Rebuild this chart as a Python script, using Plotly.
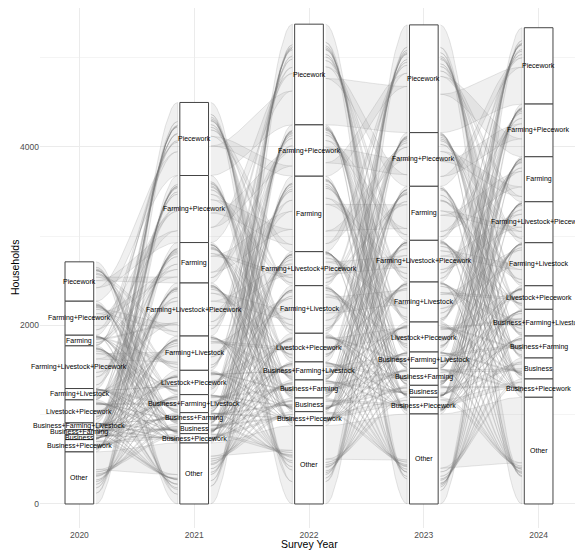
import plotly.graph_objects as go

years = [2020, 2021, 2022, 2023, 2024]
categories = ["Piecework", "Farming+Piecework", "Farming", "Farming+Livestock+Piecework",
              "Farming+Livestock", "Livestock+Piecework", "Business+Farming+Livestock",
              "Business+Farming", "Business", "Business+Piecework", "Other"]

# households per livelihood stratum (same order as categories, top to bottom)
hh_2020 = [441, 381, 119, 478, 127, 258, 75, 56, 56, 138, 583]
hh_2021 = [818, 751, 453, 594, 384, 272, 202, 123, 112, 105, 683]
hh_2022 = [1128, 575, 845, 381, 533, 321, 202, 202, 153, 157, 877]
hh_2023 = [1207, 601, 605, 467, 448, 336, 183, 190, 134, 187, 1008]
hh_2024 = [855, 590, 504, 459, 482, 264, 299, 246, 235, 205, 1195]

# transitions (rows: from stratum, cols: to stratum)
flows_2020_2021 = [
    [150, 80, 40, 30, 15, 25, 5, 5, 10, 20, 61],
    [60, 130, 50, 50, 20, 10, 8, 8, 5, 10, 30],
    [10, 25, 35, 12, 12, 3, 5, 5, 2, 0, 10],
    [40, 90, 50, 150, 60, 30, 20, 5, 5, 8, 20],
    [5, 15, 20, 25, 35, 5, 10, 4, 2, 1, 5],
    [40, 25, 10, 45, 15, 70, 8, 3, 5, 12, 25],
    [3, 5, 8, 10, 12, 4, 20, 6, 3, 1, 3],
    [3, 6, 8, 4, 5, 2, 8, 12, 4, 2, 2],
    [5, 3, 3, 3, 2, 3, 4, 6, 15, 7, 5],
    [25, 12, 5, 8, 3, 10, 3, 5, 15, 30, 22],
    [120, 60, 40, 30, 20, 40, 10, 15, 25, 25, 198],
]
flows_2021_2022 = [
    [330, 110, 70, 30, 30, 40, 10, 15, 20, 30, 133],
    [170, 160, 150, 60, 50, 30, 15, 20, 10, 16, 70],
    [60, 60, 180, 30, 50, 10, 12, 20, 6, 5, 20],
    [80, 80, 110, 120, 90, 45, 20, 10, 8, 6, 25],
    [30, 30, 90, 45, 110, 20, 25, 12, 6, 4, 12],
    [60, 20, 20, 30, 20, 70, 10, 5, 7, 10, 20],
    [10, 12, 25, 20, 40, 15, 45, 15, 8, 4, 8],
    [8, 10, 20, 6, 12, 5, 12, 30, 10, 4, 6],
    [12, 6, 8, 4, 5, 5, 6, 12, 30, 10, 14],
    [20, 8, 5, 5, 3, 8, 3, 5, 10, 25, 13],
    [200, 60, 70, 25, 40, 45, 15, 25, 25, 30, 148],
]
flows_2022_2023 = [
    [520, 130, 70, 40, 30, 50, 10, 15, 20, 40, 203],
    [150, 170, 80, 60, 30, 25, 8, 10, 7, 15, 20],
    [90, 140, 300, 70, 110, 20, 25, 35, 10, 10, 35],
    [35, 50, 40, 140, 45, 40, 12, 5, 4, 5, 5],
    [30, 25, 90, 80, 180, 30, 45, 20, 8, 5, 20],
    [60, 20, 10, 45, 20, 110, 8, 5, 8, 15, 20],
    [10, 5, 15, 20, 35, 10, 60, 25, 10, 4, 8],
    [15, 10, 25, 5, 15, 5, 20, 70, 20, 7, 10],
    [20, 5, 8, 3, 5, 5, 5, 15, 50, 17, 20],
    [35, 10, 5, 5, 3, 10, 3, 5, 15, 50, 16],
    [250, 40, 40, 20, 20, 40, 10, 20, 25, 37, 375],
]
flows_2023_2024 = [
    [430, 200, 60, 50, 30, 50, 15, 20, 40, 60, 252],
    [110, 170, 110, 80, 40, 20, 20, 20, 10, 11, 10],
    [40, 60, 180, 50, 110, 10, 55, 60, 15, 5, 20],
    [40, 60, 40, 150, 60, 50, 30, 10, 7, 10, 10],
    [20, 20, 60, 50, 160, 20, 70, 25, 8, 5, 10],
    [50, 15, 10, 50, 25, 100, 15, 10, 15, 26, 20],
    [5, 5, 15, 15, 30, 10, 60, 25, 8, 5, 5],
    [8, 8, 15, 5, 10, 5, 25, 70, 25, 9, 10],
    [10, 3, 4, 3, 3, 3, 5, 15, 60, 13, 15],
    [30, 10, 5, 5, 3, 10, 4, 6, 25, 60, 29],
    [150, 40, 20, 15, 10, 30, 15, 30, 50, 40, 608],
]

strata = [hh_2020, hh_2021, hh_2022, hh_2023, hh_2024]
transitions = [flows_2020_2021, flows_2021_2022, flows_2022_2023, flows_2023_2024]

BOX_HALF = 0.125
FLOW_GAP = 0.145
N_PTS = 28
FONT = "Liberation Sans, Arial, sans-serif"


def tops_of(sizes):
    tops, cur = [], sum(sizes)
    for s in sizes:
        tops.append(cur)
        cur -= s
    return tops


def curve(y0, y1, n=N_PTS):
    out = []
    for k in range(n):
        t = k / (n - 1)
        f = 3 * t * t - 2 * t * t * t
        out.append(y0 + (y1 - y0) * f)
    return out


fig = go.Figure()
n = len(categories)
order = list(range(n))[::-1]   # lodes stacked in reverse stratum order (crossing flows)
for k, M in enumerate(transitions):
    src, dst = strata[k], strata[k + 1]
    st, dt = tops_of(src), tops_of(dst)
    rs = [sum(M[i]) for i in range(n)]
    cs = [sum(M[i][j] for i in range(n)) for j in range(n)]
    src_pos = {}
    for i in range(n):
        o = st[i]
        for j in order:
            if M[i][j] > 0:
                h = M[i][j] / rs[i] * src[i]
                src_pos[(i, j)] = (o, o - h)
                o -= h
    dst_pos = {}
    for j in range(n):
        o = dt[j]
        for i in order:
            if M[i][j] > 0:
                h = M[i][j] / cs[j] * dst[j]
                dst_pos[(i, j)] = (o, o - h)
                o -= h
    x0 = k + 1 + FLOW_GAP
    x1 = k + 2 - FLOW_GAP
    xs_line = [x0 + (x1 - x0) * q / (N_PTS - 1) for q in range(N_PTS)]
    for i in range(n):
        for j in range(n):
            if M[i][j] <= 0:
                continue
            s_top, s_bot = src_pos[(i, j)]
            d_top, d_bot = dst_pos[(i, j)]
            top = curve(s_top, d_top)
            bot = curve(s_bot, d_bot)
            fig.add_trace(go.Scatter(
                x=xs_line + xs_line[::-1],
                y=top + bot[::-1],
                mode="lines", fill="toself",
                fillcolor="rgba(150,150,150,0.14)",
                line=dict(color="rgba(110,110,110,0.35)", width=0.5),
                hoverinfo="skip", showlegend=False))

shapes = []
annotations = []
for k, sizes in enumerate(strata):
    tops = tops_of(sizes)
    xc = k + 1
    for i, s in enumerate(sizes):
        shapes.append(dict(type="rect", xref="x", yref="y",
                           x0=xc - BOX_HALF, x1=xc + BOX_HALF,
                           y0=tops[i] - s, y1=tops[i],
                           fillcolor="white", line=dict(color="#444444", width=1),
                           layer="above"))
        annotations.append(dict(x=xc, y=tops[i] - s / 2, xref="x", yref="y",
                                text=categories[i], showarrow=False,
                                font=dict(size=7, color="black", family=FONT)))

annotations.append(dict(x=0.5, y=0, xref="paper", yref="paper", yanchor="top",
                        yshift=-8, text="Survey Year", showarrow=False,
                        font=dict(size=10.5, color="black", family=FONT)))
annotations.append(dict(x=0, y=0.5, xref="paper", yref="paper", xanchor="center",
                        xshift=-25, text="Households", textangle=-90, showarrow=False,
                        font=dict(size=10.5, color="black", family=FONT)))

# page body has an 8px default margin, so the figure is sized/offset to compensate
fig.update_layout(
    width=575, height=542,
    margin=dict(l=32, r=5, t=0, b=22),
    plot_bgcolor="white", paper_bgcolor="white",
    shapes=shapes, annotations=annotations,
    font=dict(family=FONT),
    xaxis=dict(range=[0.657, 5.343], tickvals=[1, 2, 3, 4, 5],
               ticktext=[str(y) for y in years], showgrid=True,
               gridcolor="#ebebeb", gridwidth=1, zeroline=False, ticks="",
               tickfont=dict(size=8.5, color="#4d4d4d"), showline=False),
    yaxis=dict(range=[-269, 5555], tickvals=[0, 2000, 4000], showgrid=True,
               gridcolor="#ebebeb", gridwidth=1, zeroline=False, ticks="",
               tickfont=dict(size=8.5, color="#4d4d4d"), showline=False,
               minor=dict(tickvals=[1000, 3000, 5000], showgrid=True,
                          gridcolor="#f4f4f4", gridwidth=0.6)),
)

fig.write_html("out.html")
